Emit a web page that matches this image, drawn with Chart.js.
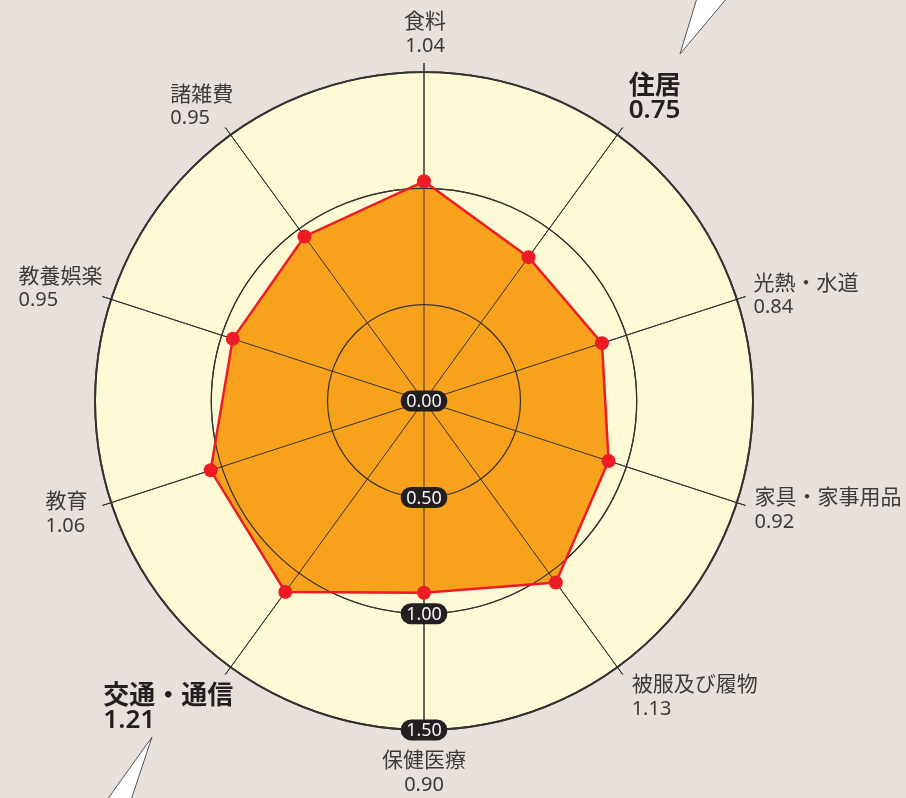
<!DOCTYPE html>
<html lang="ja">
<head>
<meta charset="utf-8">
<title>消費支出 費目別レーダー</title>
<script src="https://cdn.jsdelivr.net/npm/chart.js@4.4.1/dist/chart.umd.min.js"></script>
<style>
  html, body { margin: 0; padding: 0; background: #e8e0db; }
  #wrap { width: 906px; height: 798px; position: relative; }
</style>
</head>
<body>
<div id="wrap"><canvas id="radarChart"></canvas></div>
<script>
// categories clockwise from the top
const categories = ['食料', '住居', '光熱・水道', '家具・家事用品', '被服及び履物',
                    '保健医療', '交通・通信', '教育', '教養娯楽', '諸雑費'];
// numbers printed under each category
const printedValues = [1.04, 0.75, 0.84, 0.92, 1.13, 0.90, 1.21, 1.06, 0.95, 0.95];
// where the points sit on the drawn rings
const plottedValues = [1.03, 0.85, 0.89, 0.92, 1.05, 0.91, 1.10, 1.05, 0.95, 0.96];
const tickValues = [0, 0.5, 1.0, 1.5];
const tickLabels = ['0.00', '0.50', '1.00', '1.50'];
const highlighted = ['住居', '交通・通信'];

// the drawing's centre is not a true zero, and the spokes run a little past the last ring
const scaleMin = 0.085;
const scaleMax = 1.539;

// label placement relative to the end of each spoke: [dx, dy of first line, align]
const labelOffsets = [
  [1, -43, 'center'],
  [6, -43, 'left'],
  [8, -15, 'left'],
  [9, -9, 'left'],
  [9, 9, 'left'],
  [0, 20, 'center'],
  [-122, 20, 'left'],
  [-57, -5, 'left'],
  [-84, -22, 'left'],
  [-55, -35, 'left']
];

const backdrop = {
  id: 'backdrop',
  beforeDraw(chart) {
    const r = chart.scales.r;
    const ctx = chart.ctx;
    ctx.save();
    ctx.fillStyle = '#fffad6';
    ctx.beginPath();
    ctx.arc(r.xCenter, r.yCenter, r.getDistanceFromCenterForValue(tickValues[tickValues.length - 1]), 0, Math.PI * 2);
    ctx.fill();
    ctx.restore();
  }
};

// put rings and spokes back on top of the orange area
const gridOverFill = {
  id: 'gridOverFill',
  afterDatasetDraw(chart, args) {
    if (args.index === 1) chart.scales.r.drawGrid();
  }
};

const tickPills = {
  id: 'tickPills',
  afterDraw(chart) {
    const r = chart.scales.r;
    const ctx = chart.ctx;
    ctx.save();
    ctx.font = '18px "Noto Sans"';
    ctx.textAlign = 'center';
    ctx.textBaseline = 'middle';
    r.ticks.forEach(t => {
      const x = r.xCenter;
      const y = r.yCenter + r.getDistanceFromCenterForValue(t.value);
      const w = ctx.measureText(t.label).width + 11;
      const h = 21;
      ctx.fillStyle = '#231f20';
      ctx.beginPath();
      ctx.roundRect(x - w / 2, y - h / 2, w, h, h / 2);
      ctx.fill();
      ctx.fillStyle = '#f4f4f4';
      ctx.fillText(t.label, x, y + 1);
    });
    ctx.restore();
  }
};

const axisLabels = {
  id: 'axisLabels',
  afterDraw(chart) {
    const r = chart.scales.r;
    const ctx = chart.ctx;
    ctx.save();
    ctx.textBaseline = 'middle';
    categories.forEach((name, i) => {
      const end = r.getPointPosition(i, r.drawingArea);
      const [dx, dy, align] = labelOffsets[i];
      const big = highlighted.includes(name);
      const x = end.x + dx;
      const y = end.y + dy;
      ctx.textAlign = align;
      ctx.fillStyle = big ? '#231f20' : '#3b3b3b';
      ctx.font = big ? '600 26px "Noto Sans CJK JP"' : '21px "Noto Sans CJK JP"';
      ctx.fillText(name, x, y);
      ctx.font = big ? '600 26px "Noto Sans"' : '20px "Noto Sans"';
      ctx.fillText(printedValues[i].toFixed(2), x, y + 26);
    });
    ctx.restore();
  }
};

// the two white pointers at the corners
const callouts = {
  id: 'callouts',
  afterDraw(chart) {
    const ctx = chart.ctx;
    const shapes = [
      [[680, 54], [697, -2], [727, -2]],
      [[152, 737], [107, 800], [131, 800]]
    ];
    ctx.save();
    ctx.fillStyle = '#ffffff';
    ctx.strokeStyle = '#555555';
    ctx.lineWidth = 1;
    shapes.forEach(pts => {
      ctx.beginPath();
      ctx.moveTo(pts[0][0], pts[0][1]);
      ctx.lineTo(pts[1][0], pts[1][1]);
      ctx.lineTo(pts[2][0], pts[2][1]);
      ctx.closePath();
      ctx.fill();
      ctx.stroke();
    });
    ctx.restore();
  }
};

const ctx = document.getElementById('radarChart').getContext('2d');
new Chart(ctx, {
  type: 'radar',
  data: {
    labels: categories,
    datasets: [{
      label: 'outline',
      data: plottedValues,
      borderColor: '#ed1c24',
      borderWidth: 2.5,
      fill: false,
      pointRadius: 7,
      pointBackgroundColor: '#ed1c24',
      pointBorderWidth: 0,
      order: 1
    }, {
      label: 'area',
      data: plottedValues,
      backgroundColor: '#f8a11c',
      borderWidth: 0,
      pointRadius: 0,
      fill: 'origin',
      order: 2
    }]
  },
  options: {
    responsive: true,
    maintainAspectRatio: false,
    animation: false,
    layout: { padding: { left: 86, right: 144, top: 63, bottom: 59 } },
    elements: { line: { tension: 0 } },
    plugins: {
      legend: { display: false },
      tooltip: { enabled: false }
    },
    scales: {
      r: {
        min: scaleMin,
        max: scaleMax,
        afterBuildTicks: scale => {
          scale.ticks = tickValues.map(v => ({ value: Math.max(v, scaleMin) }));
        },
        ticks: {
          display: false,
          callback: (value, index) => tickLabels[index]
        },
        grid: {
          circular: true,
          color: '#333333',
          lineWidth: c => (c.index === tickValues.length - 1 ? 1.8 : 1.2)
        },
        angleLines: { color: '#333333', lineWidth: 1 },
        pointLabels: { display: false }
      }
    }
  },
  plugins: [backdrop, gridOverFill, tickPills, axisLabels, callouts]
});
</script>
</body>
</html>
